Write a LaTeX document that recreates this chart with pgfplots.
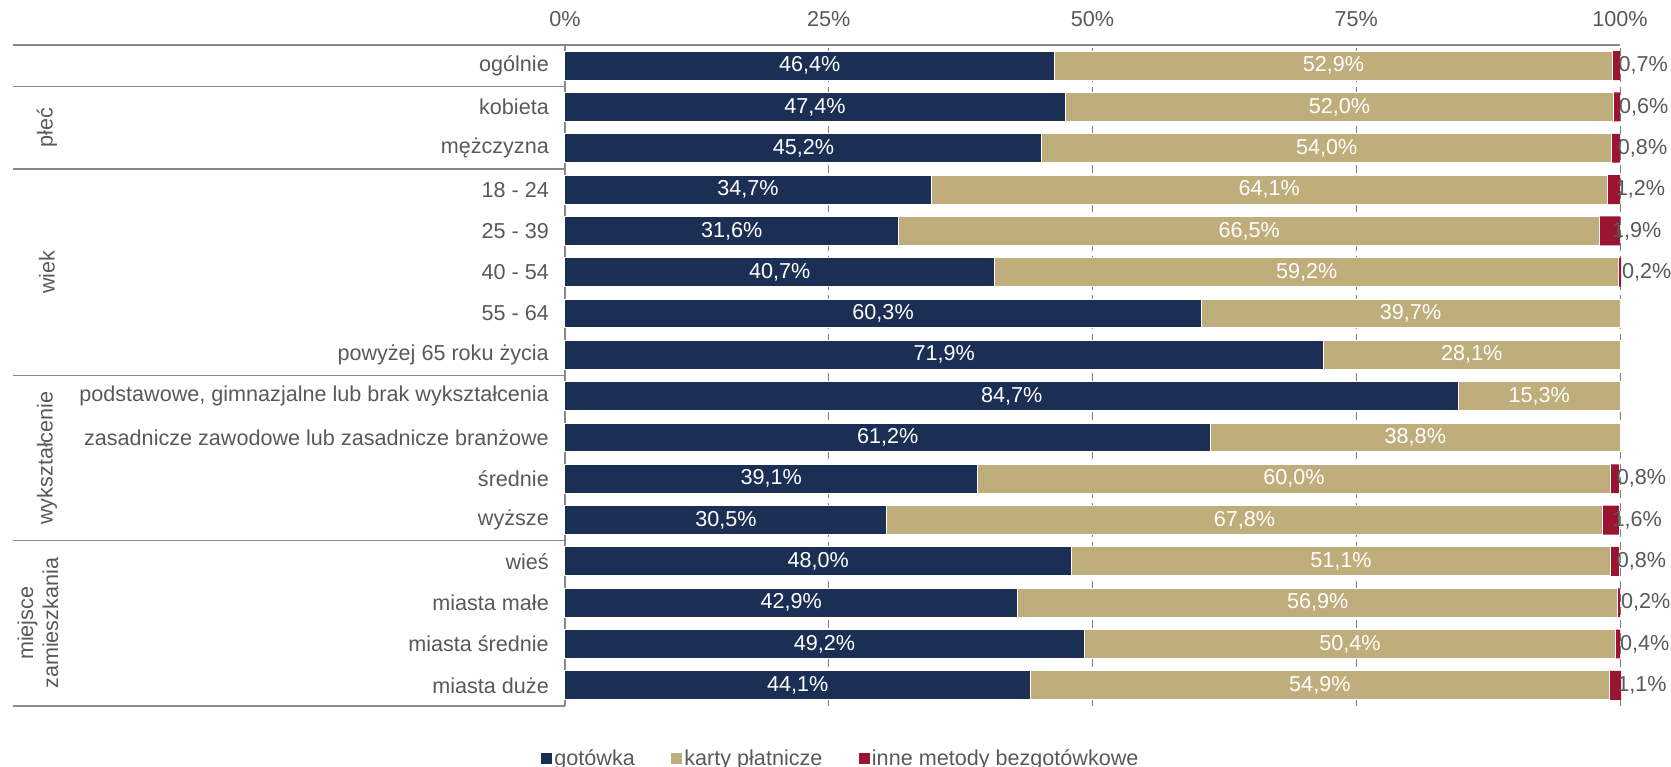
\documentclass[border=0pt]{standalone}
\usepackage{pgfplots}
\usepackage{pgfplotstable}
\pgfplotsset{compat=1.18}
\usepackage{fontspec}
\setmainfont{Liberation Sans}
\definecolor{navy}{HTML}{1B2F55}
\definecolor{tan}{HTML}{BFAD7C}
\definecolor{crimson}{HTML}{9B1431}
\definecolor{txt}{HTML}{595959}
\definecolor{gridc}{HTML}{7F7F7F}
\definecolor{sepc}{HTML}{898989}
\newcommand{\lbl}{\fontsize{21.6}{25}\selectfont}
\pgfkeys{/pgf/number format/assume math mode=true}

% row: 15 = ogólnie ... 0 = miasta duże
\pgfplotstableread{
row gotowka karty inne
15 46.4 52.9 0.7
14 47.4 52.0 0.6
13 45.2 54.0 0.8
12 34.7 64.1 1.2
11 31.6 66.5 1.9
10 40.7 59.2 0.2
9  60.3 39.7 0
8  71.9 28.1 0
7  84.7 15.3 0
6  61.2 38.8 0
5  39.1 60.0 0.8
4  30.5 67.8 1.6
3  48.0 51.1 0.8
2  42.9 56.9 0.2
1  49.2 50.4 0.4
0  44.1 54.9 1.1
}\dane

\pgfplotsset{
  geom/.style={at={(565pt,61pt)}, anchor=south west,
    width=1055pt, height=661pt, scale only axis,
    xmin=0, xmax=100, ymin=-0.5, ymax=15.5, clip=false},
  pct/.style={nodes near coords={\pgfmathprintnumber[fixed,fixed zerofill,precision=1,use comma]{\pgfplotspointmeta}\%}},
}

\begin{document}
\begin{tikzpicture}
\useasboundingbox (0pt,0pt) rectangle (1671pt,767pt);
\begin{axis}[geom,
  xbar stacked, bar width=0.7,
  xtick={0,25,50,75,100},
  xticklabels={0\%,25\%,50\%,75\%,100\%},
  xticklabel pos=upper,
  xticklabel style={anchor=south, inner sep=0pt, yshift=18pt},
  ytick={0,...,15},
  yticklabels={miasta duże,miasta średnie,miasta małe,wieś,wyższe,średnie,
    zasadnicze zawodowe lub zasadnicze branżowe,
    podstawowe{,} gimnazjalne lub brak wykształcenia,
    powyżej 65 roku życia,55 - 64,40 - 54,25 - 39,18 - 24,mężczyzna,kobieta,ogólnie},
  yticklabel style={anchor=east, inner sep=0pt, xshift=-16pt},
  major tick length=0pt,
  axis line style={draw=none},
  xmajorgrids,
  grid style={gridc, line width=1pt, dash pattern=on 8pt off 5pt},
  tick label style={font=\lbl, text=txt},
  legend style={at={(axis description cs:0.2616,-0.0787)}, anchor=center,
    draw=none, fill=none, font=\lbl, text=txt, inner sep=0pt,
    legend columns=-1, nodes={inner sep=2pt},
    /tikz/every even column/.append style={column sep=34.5pt}},
  legend image code/.code={\fill[#1, draw=none] (0pt,-5.5pt) rectangle (11pt,5.5pt);},
]
\addplot[fill=navy, draw=white, line width=1pt] table[x=gotowka, y=row] {\dane};
\addlegendentry{gotówka}
\addplot[fill=tan, draw=white, line width=1pt] table[x=karty, y=row] {\dane};
\addlegendentry{karty płatnicze}
\addplot[fill=crimson, draw=none, point meta=explicit,
  nodes near coords={\pgfmathfloatifflags{\pgfplotspointmeta}{0}{}{\pgfmathprintnumber[fixed,fixed zerofill,precision=1,use comma]{\pgfplotspointmeta}\%}},
  every node near coord/.append style={anchor=west, inner sep=0pt, xshift=2pt, text=txt, font=\lbl}]
  table[x=inne, y=row, meta=inne] {\dane};
\addlegendentry{inne metody bezgotówkowe}
% ramka i podziały grup
\draw[sepc, line width=1.5pt] ([xshift=-552pt]axis cs:0,15.5) -- (axis cs:100,15.5);
\draw[sepc, line width=1.5pt] (axis cs:0,15.5) -- (axis cs:0,-0.5);
\draw[sepc, line width=1.5pt] ([xshift=-552pt]axis cs:0,14.5) -- (axis cs:0,14.5);
\draw[sepc, line width=1.5pt] ([xshift=-552pt]axis cs:0,12.5) -- (axis cs:0,12.5);
\draw[sepc, line width=1.5pt] ([xshift=-552pt]axis cs:0,7.5) -- (axis cs:0,7.5);
\draw[sepc, line width=1.5pt] ([xshift=-552pt]axis cs:0,3.5) -- (axis cs:0,3.5);
\draw[sepc, line width=1.5pt] ([xshift=-552pt]axis cs:0,-0.5) -- (axis cs:0,-0.5);
\node[rotate=90, font=\lbl, text=txt] at ([xshift=-518pt]axis cs:0,13.5) {płeć};
\node[rotate=90, font=\lbl, text=txt] at ([xshift=-518pt]axis cs:0,10) {wiek};
\node[rotate=90, font=\lbl, text=txt] at ([xshift=-518pt]axis cs:0,5.5) {wykształcenie};
\node[rotate=90, font=\lbl, text=txt, align=center] at ([xshift=-527pt]axis cs:0,1.5) {miejsce\\zamieszkania};
\end{axis}
% etykiety w środku segmentów
\begin{axis}[geom, hide axis]
\addplot[draw=none, mark=none, point meta=explicit, pct,
  every node near coord/.append style={anchor=center, text=white, font=\lbl}]
  table[x expr=\thisrow{gotowka}/2, y=row, meta=gotowka] {\dane};
\addplot[draw=none, mark=none, point meta=explicit, pct,
  every node near coord/.append style={anchor=center, text=white, font=\lbl}]
  table[x expr=\thisrow{gotowka}+\thisrow{karty}/2, y=row, meta=karty] {\dane};
\end{axis}
\end{tikzpicture}
\end{document}
